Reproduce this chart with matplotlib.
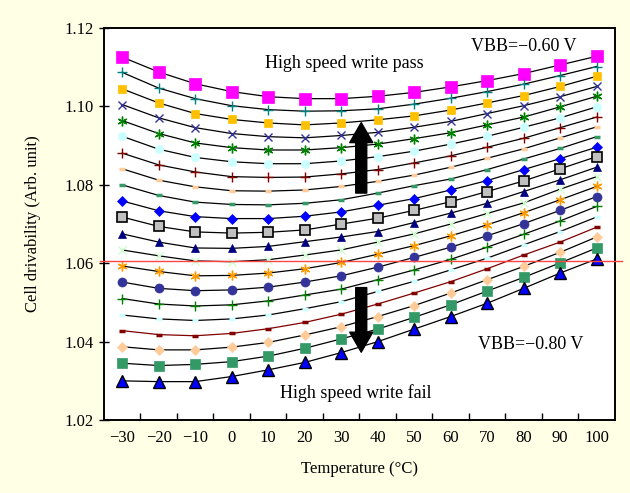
import matplotlib
matplotlib.use("Agg")
import matplotlib.pyplot as plt
from matplotlib.patches import FancyArrowPatch

plt.rcParams["font.family"] = ["Liberation Serif", "DejaVu Serif"]

# --------------------------------------------------------------------------- #
# data
# --------------------------------------------------------------------------- #
temps = [-30, -20, -10, 0, 10, 20, 30, 40, 50, 60, 70, 80, 90, 100]
vbb = [-0.60, -0.61, -0.62, -0.63, -0.64, -0.65, -0.66, -0.67, -0.68, -0.69, -0.70,
       -0.71, -0.72, -0.73, -0.74, -0.75, -0.76, -0.77, -0.78, -0.79, -0.80]

vbb_060 = [1.1126, 1.1088, 1.1058, 1.1038, 1.1025, 1.1020, 1.1020, 1.1026, 1.1036, 1.1050, 1.1066, 1.1084, 1.1106, 1.1128]
vbb_061 = [1.1087, 1.1047, 1.1020, 1.1002, 1.0992, 1.0988, 1.0989, 1.0994, 1.1006, 1.1021, 1.1038, 1.1057, 1.1079, 1.1102]
vbb_062 = [1.1045, 1.1009, 1.0982, 1.0967, 1.0958, 1.0953, 1.0958, 1.0966, 1.0976, 1.0991, 1.1009, 1.1028, 1.1051, 1.1077]
vbb_063 = [1.1005, 1.0971, 1.0946, 1.0931, 1.0923, 1.0920, 1.0926, 1.0934, 1.0947, 1.0962, 1.0982, 1.1002, 1.1025, 1.1051]
vbb_064 = [1.0964, 1.0931, 1.0907, 1.0895, 1.0889, 1.0889, 1.0895, 1.0904, 1.0918, 1.0933, 1.0953, 1.0973, 1.0999, 1.1026]
vbb_065 = [1.0924, 1.0891, 1.0870, 1.0859, 1.0854, 1.0854, 1.0861, 1.0872, 1.0886, 1.0904, 1.0924, 1.0947, 1.0971, 1.0999]
vbb_066 = [1.0881, 1.0851, 1.0833, 1.0821, 1.0819, 1.0820, 1.0828, 1.0839, 1.0856, 1.0874, 1.0896, 1.0919, 1.0946, 1.0973]
vbb_067 = [1.0841, 1.0812, 1.0795, 1.0785, 1.0784, 1.0787, 1.0796, 1.0809, 1.0825, 1.0845, 1.0868, 1.0892, 1.0920, 1.0948]
vbb_068 = [1.0800, 1.0773, 1.0756, 1.0750, 1.0749, 1.0753, 1.0762, 1.0779, 1.0798, 1.0815, 1.0839, 1.0866, 1.0893, 1.0923]
vbb_069 = [1.0759, 1.0734, 1.0719, 1.0714, 1.0714, 1.0720, 1.0731, 1.0748, 1.0765, 1.0787, 1.0811, 1.0839, 1.0867, 1.0896]
vbb_070 = [1.0718, 1.0694, 1.0680, 1.0677, 1.0679, 1.0685, 1.0700, 1.0715, 1.0735, 1.0757, 1.0783, 1.0810, 1.0841, 1.0872]
vbb_071 = [1.0675, 1.0654, 1.0639, 1.0638, 1.0643, 1.0655, 1.0667, 1.0681, 1.0704, 1.0728, 1.0753, 1.0783, 1.0813, 1.0845]
vbb_072 = [1.0634, 1.0619, 1.0606, 1.0604, 1.0609, 1.0621, 1.0634, 1.0654, 1.0675, 1.0700, 1.0727, 1.0754, 1.0789, 1.0821]
vbb_073 = [1.0593, 1.0579, 1.0568, 1.0569, 1.0575, 1.0586, 1.0602, 1.0623, 1.0645, 1.0670, 1.0698, 1.0729, 1.0762, 1.0796]
vbb_074 = [1.0552, 1.0536, 1.0530, 1.0532, 1.0539, 1.0552, 1.0568, 1.0590, 1.0615, 1.0641, 1.0670, 1.0701, 1.0735, 1.0770]
vbb_075 = [1.0510, 1.0496, 1.0491, 1.0494, 1.0504, 1.0519, 1.0534, 1.0558, 1.0583, 1.0610, 1.0641, 1.0674, 1.0708, 1.0745]
vbb_076 = [1.0468, 1.0458, 1.0454, 1.0458, 1.0468, 1.0484, 1.0502, 1.0528, 1.0554, 1.0583, 1.0613, 1.0647, 1.0681, 1.0718]
vbb_077 = [1.0428, 1.0418, 1.0415, 1.0421, 1.0433, 1.0449, 1.0470, 1.0496, 1.0524, 1.0553, 1.0586, 1.0621, 1.0654, 1.0692]
vbb_078 = [1.0387, 1.0379, 1.0379, 1.0386, 1.0398, 1.0417, 1.0438, 1.0464, 1.0492, 1.0524, 1.0558, 1.0592, 1.0628, 1.0667]
vbb_079 = [1.0345, 1.0339, 1.0342, 1.0349, 1.0363, 1.0383, 1.0407, 1.0432, 1.0462, 1.0494, 1.0529, 1.0564, 1.0601, 1.0639]
vbb_080 = [1.0300, 1.0298, 1.0298, 1.0311, 1.0328, 1.0347, 1.0372, 1.0400, 1.0432, 1.0464, 1.0498, 1.0536, 1.0575, 1.0611]

curves = [vbb_060, vbb_061, vbb_062, vbb_063, vbb_064, vbb_065, vbb_066, vbb_067,
          vbb_068, vbb_069, vbb_070, vbb_071, vbb_072, vbb_073, vbb_074, vbb_075,
          vbb_076, vbb_077, vbb_078, vbb_079, vbb_080]

pass_limit = 1.0605

# --------------------------------------------------------------------------- #
# marker styles: (marker, face, edge, size, edge width)
# --------------------------------------------------------------------------- #
AST = (6, 2, 0)
styles = [
    ("s", "#FF00FF", "#FF00FF", 8.0, 0.5),
    ("+", "#008080", "#008080", 6.5, 1.0),
    ("s", "#FFC000", "#FFC000", 6.0, 0.5),
    ("x", "#333399", "#333399", 6.0, 1.0),
    (AST, "#008000", "#008000", 7.0, 1.0),
    ("o", "#CCFFFF", "#CCFFFF", 6.0, 0.5),
    ("+", "#800000", "#800000", 6.5, 1.0),
    ("_", "#FFCC99", "#FFCC99", 5.0, 2.5),
    ("_", "#339966", "#339966", 5.0, 2.5),
    ("D", "#0000FF", "#0000FF", 4.8, 0.5),
    ("s", "#C0C0C0", "#000000", 7.5, 1.2),
    ("^", "#000080", "#000080", 6.0, 0.5),
    ("x", "#CCFFCC", "#CCFFCC", 6.0, 1.0),
    (AST, "#FF9900", "#FF9900", 7.0, 1.0),
    ("o", "#333399", "#333399", 6.5, 0.5),
    ("+", "#008000", "#008000", 6.5, 1.0),
    ("_", "#CCFFFF", "#CCFFFF", 5.0, 2.5),
    ("_", "#800000", "#800000", 5.0, 2.5),
    ("D", "#FFCC99", "#FFCC99", 5.5, 0.5),
    ("s", "#339966", "#339966", 6.5, 0.5),
    ("^", "#0000FF", "#000000", 8.0, 1.0),
]

fig = plt.figure(figsize=(6.3, 4.93), dpi=100, facecolor="#FFFFE6")
ax = fig.add_axes([0.165, 0.148, 0.811, 0.795])
ax.set_facecolor("white")

xs = list(range(len(temps)))
for i, (ys, st) in enumerate(zip(curves, styles)):
    mk, fc, ec, ms, mew = st
    line_col = "#800000" if vbb[i] == -0.77 else "black"
    ax.plot(xs, ys, color=line_col, lw=0.9, zorder=2)
    ax.plot(xs, ys, ls="none", marker=mk, markerfacecolor=fc, markeredgecolor=ec,
            markersize=ms, markeredgewidth=mew, zorder=3)

ax.plot([-0.62, 13.7], [pass_limit, pass_limit], color="#FF4444", lw=1.0,
        clip_on=False, zorder=4)

# arrows
arrow_style = "simple,tail_width=1.1,head_width=2.3,head_length=2.0"
up = FancyArrowPatch((6.55, 1.0772), (6.55, 1.0966), mutation_scale=7.2,
                     arrowstyle=arrow_style, color="black", zorder=5)
down = FancyArrowPatch((6.55, 1.0545), (6.55, 1.0366), mutation_scale=7.2,
                       arrowstyle=arrow_style, color="black", zorder=5)
ax.add_patch(up)
ax.add_patch(down)

ax.text(6.09, 1.1109, "High speed write pass", fontsize=13, ha="center", va="center")
ax.text(11.0, 1.1153, "VBB=\u22120.60 V", fontsize=13, ha="center", va="center")
ax.text(11.2, 1.0392, "VBB=\u22120.80 V", fontsize=13, ha="center", va="center")
ax.text(6.39, 1.0269, "High speed write fail", fontsize=13, ha="center", va="center")

ax.set_xlim(-0.5, len(temps) - 0.5)
ax.set_ylim(1.02, 1.12)
ax.set_yticks([1.02, 1.04, 1.06, 1.08, 1.10, 1.12])
ax.set_yticklabels([f"{v:.2f}" for v in [1.02, 1.04, 1.06, 1.08, 1.10, 1.12]])
ax.set_xticks(xs)
ax.set_xticklabels([str(t).replace("-", "\u2212") for t in temps])
ax.set_xticks([x - 0.5 for x in xs[1:]], minor=True)
ax.tick_params(axis="x", which="major", length=0, labelsize=12, pad=7)
ax.tick_params(axis="x", which="minor", direction="in", length=5, width=1)
ax.tick_params(axis="y", direction="inout", length=7, width=1, labelsize=12, pad=4)
for sp in ax.spines.values():
    sp.set_linewidth(1.4)

ax.set_xlabel("Temperature (\u00b0C)", fontsize=12, labelpad=11)
ax.set_ylabel("Cell drivability (Arb. unit)", fontsize=12, labelpad=17)

fig.savefig("out.png", dpi=100, facecolor=fig.get_facecolor())
